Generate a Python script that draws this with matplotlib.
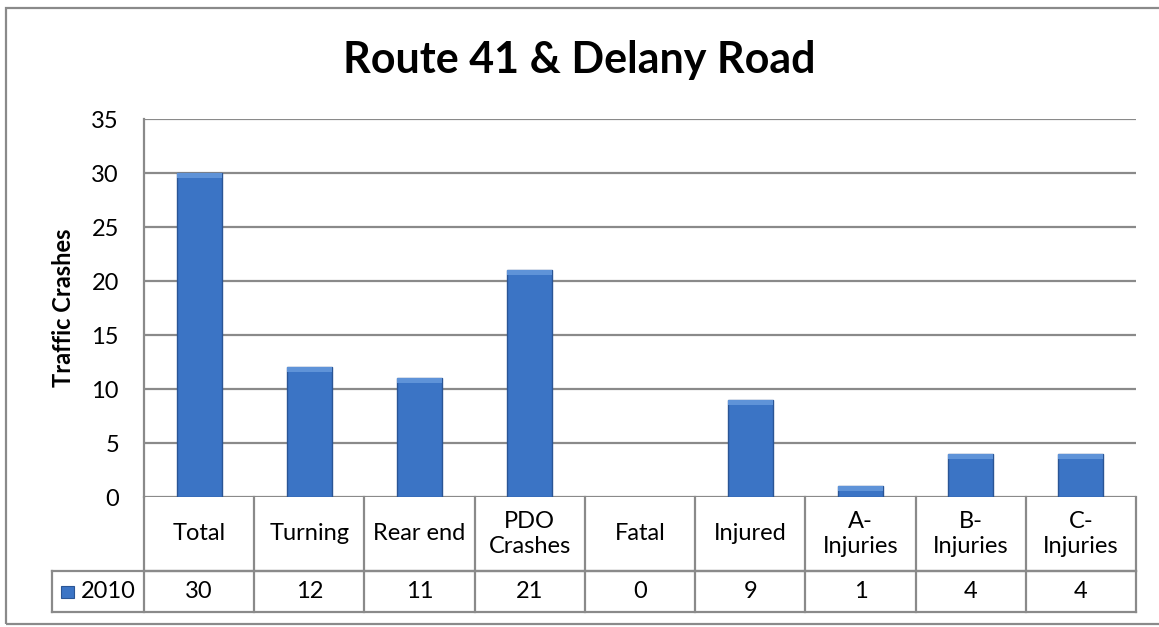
import matplotlib
matplotlib.use("Agg")
import matplotlib.pyplot as plt
from matplotlib import transforms
from matplotlib.patches import Rectangle

# datos del grafico
categorias = ["Total", "Turning", "Rear end", "PDO\nCrashes", "Fatal",
              "Injured", "A-\nInjuries", "B-\nInjuries", "C-\nInjuries"]
valores_2010 = [30, 12, 11, 21, 0, 9, 1, 4, 4]
serie = "2010"
titulo = "Route 41 & Delany Road"
etiqueta_y = "Traffic Crashes"
ticks_y = [0, 5, 10, 15, 20, 25, 30, 35]

plt.rcParams["font.family"] = ["Lato", "DejaVu Sans"]

W, H = 1159, 627
fig = plt.figure(figsize=(W / 100, H / 100), dpi=100)
fig.patch.set_facecolor("white")

# area de la grafica (en pixeles de la figura)
x0, x1, y_top, y_cero = 144, 1136, 119, 497
ax = fig.add_axes([x0 / W, 1 - y_cero / H, (x1 - x0) / W, (y_cero - y_top) / H])

gris = "#8a8a8a"
azul = "#3b74c5"
borde = "#2a5595"
letra = 17

x = list(range(len(categorias)))
ax.bar(x, valores_2010, width=0.41, color=azul, edgecolor=borde,
       linewidth=[1.0 if v else 0 for v in valores_2010], zorder=3)
# brillo superior de cada barra
ax.bar(x, [min(v, 0.45) for v in valores_2010], width=0.41,
       bottom=[v - min(v, 0.45) for v in valores_2010],
       color="#5f93d8", linewidth=0, zorder=4)

ax.set_xlim(-0.5, len(categorias) - 0.5)
ax.set_ylim(0, 35)
ax.set_yticks(ticks_y)
ax.set_yticklabels([str(t) for t in ticks_y], fontsize=letra)
ax.tick_params(axis="y", length=0, pad=18)
ax.set_xticks([])
ax.grid(axis="y", color=gris, linewidth=1.6, zorder=0)
for lado in ["top", "right", "bottom"]:
    ax.spines[lado].set_visible(False)
ax.spines["left"].set_color(gris)
ax.spines["left"].set_linewidth(1.6)

ax.set_ylabel(etiqueta_y, fontsize=17, fontweight="bold", labelpad=12)

# tabla de datos bajo el eje
alto = y_cero - y_top
y_medio = -(571 - y_cero) / alto
y_bajo = -(612 - y_cero) / alto
x_leyenda = (52 - x0) / (x1 - x0)
mezcla = transforms.blended_transform_factory(ax.transData, ax.transAxes)
ta = ax.transAxes

kw = dict(color=gris, linewidth=1.6, clip_on=False, zorder=2)
ax.plot([0, 1], [y_medio, y_medio], transform=ta, **kw)
ax.plot([x_leyenda, 1], [y_medio, y_medio], transform=ta, **kw)
ax.plot([x_leyenda, 1], [y_bajo, y_bajo], transform=ta, **kw)
ax.plot([0, 0], [0, y_bajo], transform=ta, **kw)
ax.plot([x_leyenda, x_leyenda], [y_medio, y_bajo], transform=ta, **kw)
for i in range(len(categorias)):
    xb = i + 0.5
    ax.plot([xb, xb], [0, y_bajo], transform=mezcla, **kw)

for i, (c, v) in enumerate(zip(categorias, valores_2010)):
    ax.text(i, y_medio / 2, c, transform=mezcla, ha="center", va="center",
            fontsize=letra, linespacing=1.25)
    ax.text(i, (y_medio + y_bajo) / 2, str(v), transform=mezcla, ha="center",
            va="center", fontsize=letra)

# leyenda en la tabla
y_fila = (y_medio + y_bajo) / 2
ax.add_patch(Rectangle(((61 - x0) / (x1 - x0), y_fila - 6 / alto), 13 / (x1 - x0), 12 / alto,
                       transform=ta, facecolor=azul, edgecolor=borde, linewidth=0.8,
                       clip_on=False))
ax.text((136 - x0) / (x1 - x0), y_fila, serie, transform=ta, ha="right", va="center",
        fontsize=letra)

# titulo
fig.text(0.5, 1 - 60 / H, titulo, ha="center", va="center", fontsize=31,
         fontweight="bold")

# marco exterior
fig.patches.append(Rectangle((6 / W, 1 - 624 / H), 1.2, (624 - 8) / H,
                             transform=fig.transFigure, fill=False,
                             edgecolor=gris, linewidth=1.6, clip_on=False))

fig.savefig("out.png", dpi=100)
